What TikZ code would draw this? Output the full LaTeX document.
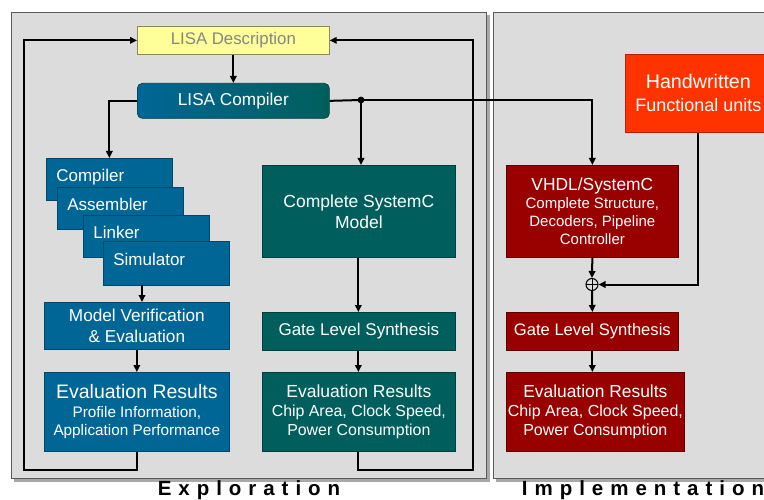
\documentclass[tikz,border=0pt]{standalone}
\usepackage{fontspec}
\setmainfont{Liberation Sans}
\usetikzlibrary{arrows.meta}

\definecolor{panelgray}{HTML}{DCDCDC}
\definecolor{paneledge}{HTML}{5A5A5A}
\definecolor{shadowgray}{HTML}{A8A8A8}
\definecolor{lisablue}{HTML}{006696}
\definecolor{lisablueedge}{HTML}{00476A}
\definecolor{scteal}{HTML}{005F5C}
\definecolor{sctealedge}{HTML}{003F3D}
\definecolor{implred}{HTML}{990000}
\definecolor{impledge}{HTML}{5E0000}
\definecolor{hworange}{HTML}{FF3300}
\definecolor{hwedge}{HTML}{B02400}
\definecolor{descyellow}{HTML}{FFFF99}
\definecolor{descedge}{HTML}{8A8A5C}
\definecolor{desctext}{HTML}{858585}

\newcommand\fsz[2]{\fontsize{#1}{#2}\selectfont}

\begin{document}
\begin{tikzpicture}[x=1pt,y=-1pt,
  box/.style={anchor=north west, inner sep=0pt, align=center, text=white, line width=0.7pt},
  bluebox/.style={box, fill=lisablue, draw=lisablueedge},
  tealbox/.style={box, fill=scteal, draw=sctealedge},
  redbox/.style={box, fill=implred, draw=impledge},
  toolbox/.style={bluebox, align=left, inner xsep=10pt, text height=12.3pt, text depth=8pt,
                  font=\fsz{17}{20}},
  arr/.style={line width=2pt, -{Triangle[length=7pt,width=6.5pt]}},
  wire/.style={line width=2pt},
  phase/.style={font=\fsz{20.5}{24}\bfseries\addfontfeature{LetterSpace=34}, inner sep=0pt}]

\useasboundingbox (0,0) rectangle (764,500);

% the two phase panels with their drop shadows
\fill[shadowgray] (14,15) rectangle (489.5,481.5);
\filldraw[fill=panelgray, draw=paneledge, line width=0.8pt] (11,12) rectangle (486,478);
\fill[shadowgray] (496,15) rectangle (790,481.5);
\filldraw[fill=panelgray, draw=paneledge, line width=0.8pt] (493,12) rectangle (790,478);

% architecture description and its compiler
\node[box, minimum width=192pt, minimum height=28pt, fill=descyellow, draw=descedge,
      text=desctext, font=\fsz{16.8}{20}] (ld) at (137,26) {LISA Description};
\node[box, minimum width=192pt, minimum height=35pt, rounded corners=5pt,
      left color=lisablue, right color=scteal, draw=sctealedge,
      font=\fsz{17.2}{20}] (lc) at (137,83) {LISA Compiler};

% generated software tools
\node[toolbox, minimum width=126pt, text width=106pt, minimum height=42pt] (comp) at (46,158) {Compiler};
\node[toolbox, minimum width=126pt, text width=106pt, minimum height=42pt] (asm) at (57,187) {Assembler};
\node[toolbox, minimum width=126pt, text width=106pt, minimum height=42pt] (lnk) at (83,215) {Linker};
\node[toolbox, minimum width=126pt, text width=106pt, minimum height=44pt] (sim) at (103,241) {Simulator};

\node[bluebox, minimum width=185pt, minimum height=47pt, font=\fsz{17.2}{21}] (mv) at (44,302)
  {Model Verification\\\& Evaluation};
\node[bluebox, minimum width=185pt, minimum height=79pt, font=\fsz{15.3}{18.5}] (evb) at (44,372)
  {{\fsz{19.5}{21}Evaluation Results}\\Profile Information,\\Application Performance};

% SystemC hardware model
\node[tealbox, minimum width=193pt, minimum height=92pt, font=\fsz{17.5}{21}] (csc) at (262,165)
  {Complete SystemC\\Model};
\node[tealbox, minimum width=193pt, minimum height=38pt, font=\fsz{17}{20}] (gst) at (262,312)
  {Gate Level Synthesis};
\node[tealbox, minimum width=193pt, minimum height=79pt, font=\fsz{15.9}{19}] (evt) at (262,372)
  {{\fsz{17.5}{20}Evaluation Results}\\Chip Area, Clock Speed,\\Power Consumption};

% implementation flow
\node[box, minimum width=146pt, minimum height=78pt, fill=hworange, draw=hwedge,
      font=\fsz{18}{23}] (hw) at (625,54)
  {{\fsz{19.7}{23}Handwritten}\\Functional units};
\node[redbox, minimum width=172pt, minimum height=92pt, font=\fsz{15}{17.8}] (vhdl) at (506,165)
  {{\fsz{17.4}{20}VHDL/SystemC}\\Complete Structure,\\Decoders, Pipeline\\Controller};
\node[draw, circle, line width=1pt, minimum size=12pt, inner sep=0pt,
      path picture={\draw[line width=0.8pt] (path picture bounding box.north) -- (path picture bounding box.south)
                    (path picture bounding box.west) -- (path picture bounding box.east);}]
      (mix) at (592,284.5) {};
\node[redbox, minimum width=172pt, minimum height=38pt, font=\fsz{16.6}{20}] (gsr) at (506,312)
  {Gate Level Synthesis};
\node[redbox, minimum width=178pt, minimum height=79pt, font=\fsz{16}{19}] (evr) at (506,372)
  {{\fsz{17.4}{20}Evaluation Results}\\Chip Area, Clock Speed,\\Power Consumption};

% junction and feedback corners
\coordinate (j) at (361,100);
\coordinate (lbot) at (24,470);
\coordinate (rbot) at (473,470);
\coordinate (simout) at (142,285);

% connectors
\draw[arr] (ld) -- (lc);
\draw[arr] (lc.west) -| (comp.north);
\draw[wire] (lc.east) -- (j);
\fill (j) circle (3.4pt);
\draw[arr] (j) -- (j |- csc.north);
\draw[arr] (j) -| (vhdl.north);

\draw[arr] (simout) -- (simout |- mv.north);
\draw[arr] (mv) -- (evb);
\draw[arr] (evb.south) |- (lbot) |- (ld.west);

\draw[arr] ([xshift=-0.5pt]csc.south) -- ([xshift=-0.5pt]gst.north);
\draw[arr] ([xshift=-0.5pt]gst.south) -- ([xshift=-0.5pt]evt.north);
\draw[arr] ([xshift=-0.5pt]evt.south) |- (rbot) |- (ld.east);

\draw[arr] (vhdl.south) -- (mix.north);
\draw[arr] (hw.south) |- (mix.east);
\draw[arr] (mix.south) -- (gsr.north);
\draw[arr] (gsr.south) -- ([xshift=-3pt]evr.north);

% phase captions
\node[phase] (expl) at (249,490) {Exploration};
\node[phase] (impl) at (643,490) {Implementation};
\end{tikzpicture}
\end{document}
